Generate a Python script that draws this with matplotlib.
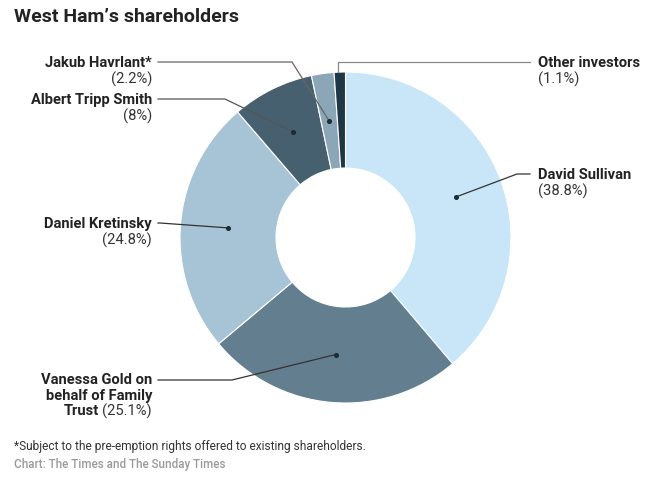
import matplotlib
matplotlib.use("Agg")
import matplotlib.pyplot as plt
import numpy as np

plt.rcParams['font.family'] = ['Roboto', 'DejaVu Sans']

# data, clockwise from 12 o'clock
names = ["David Sullivan", "Vanessa Gold on\nbehalf of Family\nTrust", "Daniel Kretinsky",
         "Albert Tripp Smith", "Jakub Havrlant*", "Other investors"]
shares = [38.8, 25.1, 24.8, 8.0, 2.2, 1.1]
share_labels = ["(38.8%)", "(25.1%)", "(24.8%)", "(8%)", "(2.2%)", "(1.1%)"]
colors = ["#c8e6f7", "#637f8f", "#a6c4d6", "#46606f", "#8ba6b6", "#1d3747"]

W, H = 661, 481
fig = plt.figure(figsize=(W / 100, H / 100), dpi=100)
ax = fig.add_axes([0, 0, 1, 1])

cx, cy = 345.5, H - 238.5
r_out, r_in = 165.5, 69.5

ax.pie(shares, colors=colors, startangle=90, counterclock=False,
       center=(cx, cy), radius=r_out,
       wedgeprops=dict(width=r_out - r_in, edgecolor="white", linewidth=0.8))
ax.set_xlim(0, W)
ax.set_ylim(0, H)
ax.set_aspect("equal")
ax.axis("off")

# mid angles of wedges
cum = np.cumsum([0] + shares)
mids = 90 - (cum[:-1] + np.array(shares) / 2) / 100 * 360
r_mid = (r_out + r_in) / 2
dots = [(cx + r_mid * np.cos(np.radians(a)), cy + r_mid * np.sin(np.radians(a))) for a in mids]
# tiny slice: line starts at the outer edge
a5 = np.radians(mids[5])
dots[5] = (cx + r_out * np.cos(a5) - 1.5, cy + r_out * np.sin(a5))

# leader layout: (elbow x, elbow y from top, line end x, text x, side)
layout = [
    (517, 175, 530, 538, "left"),
    (232, 381, 158, 152, "right"),
    (160, 224, 158, 152, "right"),
    (225, 100, 158, 152, "right"),
    (292, 63, 158, 152, "right"),
    (None, 63, 530, 538, "left"),
]
line_cols = ["#333333", "#333333", "#333333", "#555555", "#666666", "#888888"]

for i, (ex, ey, lx, tx, side) in enumerate(layout):
    dx, dy = dots[i]
    if ex is None:
        ex = dx
    ax.plot([dx, ex, lx], [dy, H - ey, H - ey], color=line_cols[i], lw=0.9, zorder=3)
    if i != 5:
        ax.plot(dx, dy, "o", ms=2.6, color="#1d2b33", zorder=4)

bold_kw = dict(fontsize=10.6, fontweight="bold", color="#222222")
reg_kw = dict(fontsize=10.6, color="#333333")

for i, (ex, ey, lx, tx, side) in enumerate(layout):
    if i == 1:
        continue
    ax.text(tx, H - ey, names[i], ha=side, va="center", **bold_kw)
    ax.text(tx, H - ey - 16, share_labels[i], ha=side, va="center", **reg_kw)

# Vanessa Gold block
ax.text(152, H - 380, "Vanessa Gold on", ha="right", va="center", **bold_kw)
ax.text(152, H - 396, "behalf of Family", ha="right", va="center", **bold_kw)
pct = ax.text(152, H - 411, share_labels[1], ha="right", va="center", **reg_kw)
fig.canvas.draw()
bb = pct.get_window_extent()
ax.text(bb.x0 - 3, H - 411, "Trust", ha="right", va="center", **bold_kw)

fig.text(14 / W, 1 - 17 / H, "West Ham\u2019s shareholders", fontsize=14,
         fontweight="bold", color="#222222", va="center", ha="left")
fig.text(14 / W, 1 - 447 / H, "*Subject to the pre-emption rights offered to existing shareholders.",
         fontsize=8.6, color="#333333", va="center", ha="left")
fig.text(14 / W, 1 - 465 / H, "Chart: The Times and The Sunday Times",
         fontsize=8.4, color="#9a9a9a", fontweight="medium", va="center", ha="left")

fig.savefig("out.png", dpi=100)
